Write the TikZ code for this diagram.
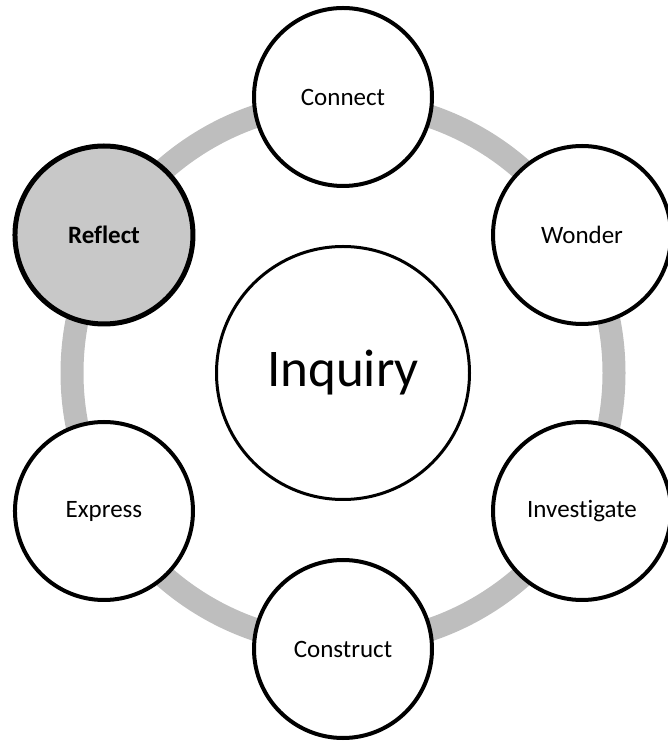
\documentclass[tikz,border=0pt]{standalone}
\usepackage{fontspec}
\setmainfont[Ligatures=NoCommon]{Carlito}
\usetikzlibrary{calc}
\definecolor{ringgray}{RGB}{190,190,190}
\definecolor{fillgray}{RGB}{200,200,200}
\begin{document}
\begin{tikzpicture}[x=1pt,y=1pt,
  stage/.style={circle,draw=black,line width=4pt,fill=white,minimum size=178pt,inner sep=0pt,font=\fontsize{25}{30}\selectfont},
  hub/.style={circle,draw=black,line width=3pt,fill=white,minimum size=253pt,inner sep=0pt,font=\fontsize{53}{60}\selectfont}]
\useasboundingbox (0,0) rectangle (668,742);
\coordinate (c) at (343,369);
\draw[ringgray,line width=23pt] (c) circle[radius=271];
\node[hub] (inq) at (c) {Inquiry};
\node[stage] (connect) at ($(c)+(90:276)$) {Connect};
\node[stage] (wonder) at ($(c)+(30:276)$) {Wonder};
\node[stage] (invest) at ($(c)+(-30:276)$) {Investigate};
\node[stage] (construct) at ($(c)+(-90:276)$) {Construct};
\node[stage] (express) at ($(c)+(210:276)$) {Express};
\node[stage,fill=fillgray,line width=5pt,font=\fontsize{25}{30}\selectfont\bfseries] (reflect) at ($(c)+(150:276)$) {Reflect};
\end{tikzpicture}
\end{document}
